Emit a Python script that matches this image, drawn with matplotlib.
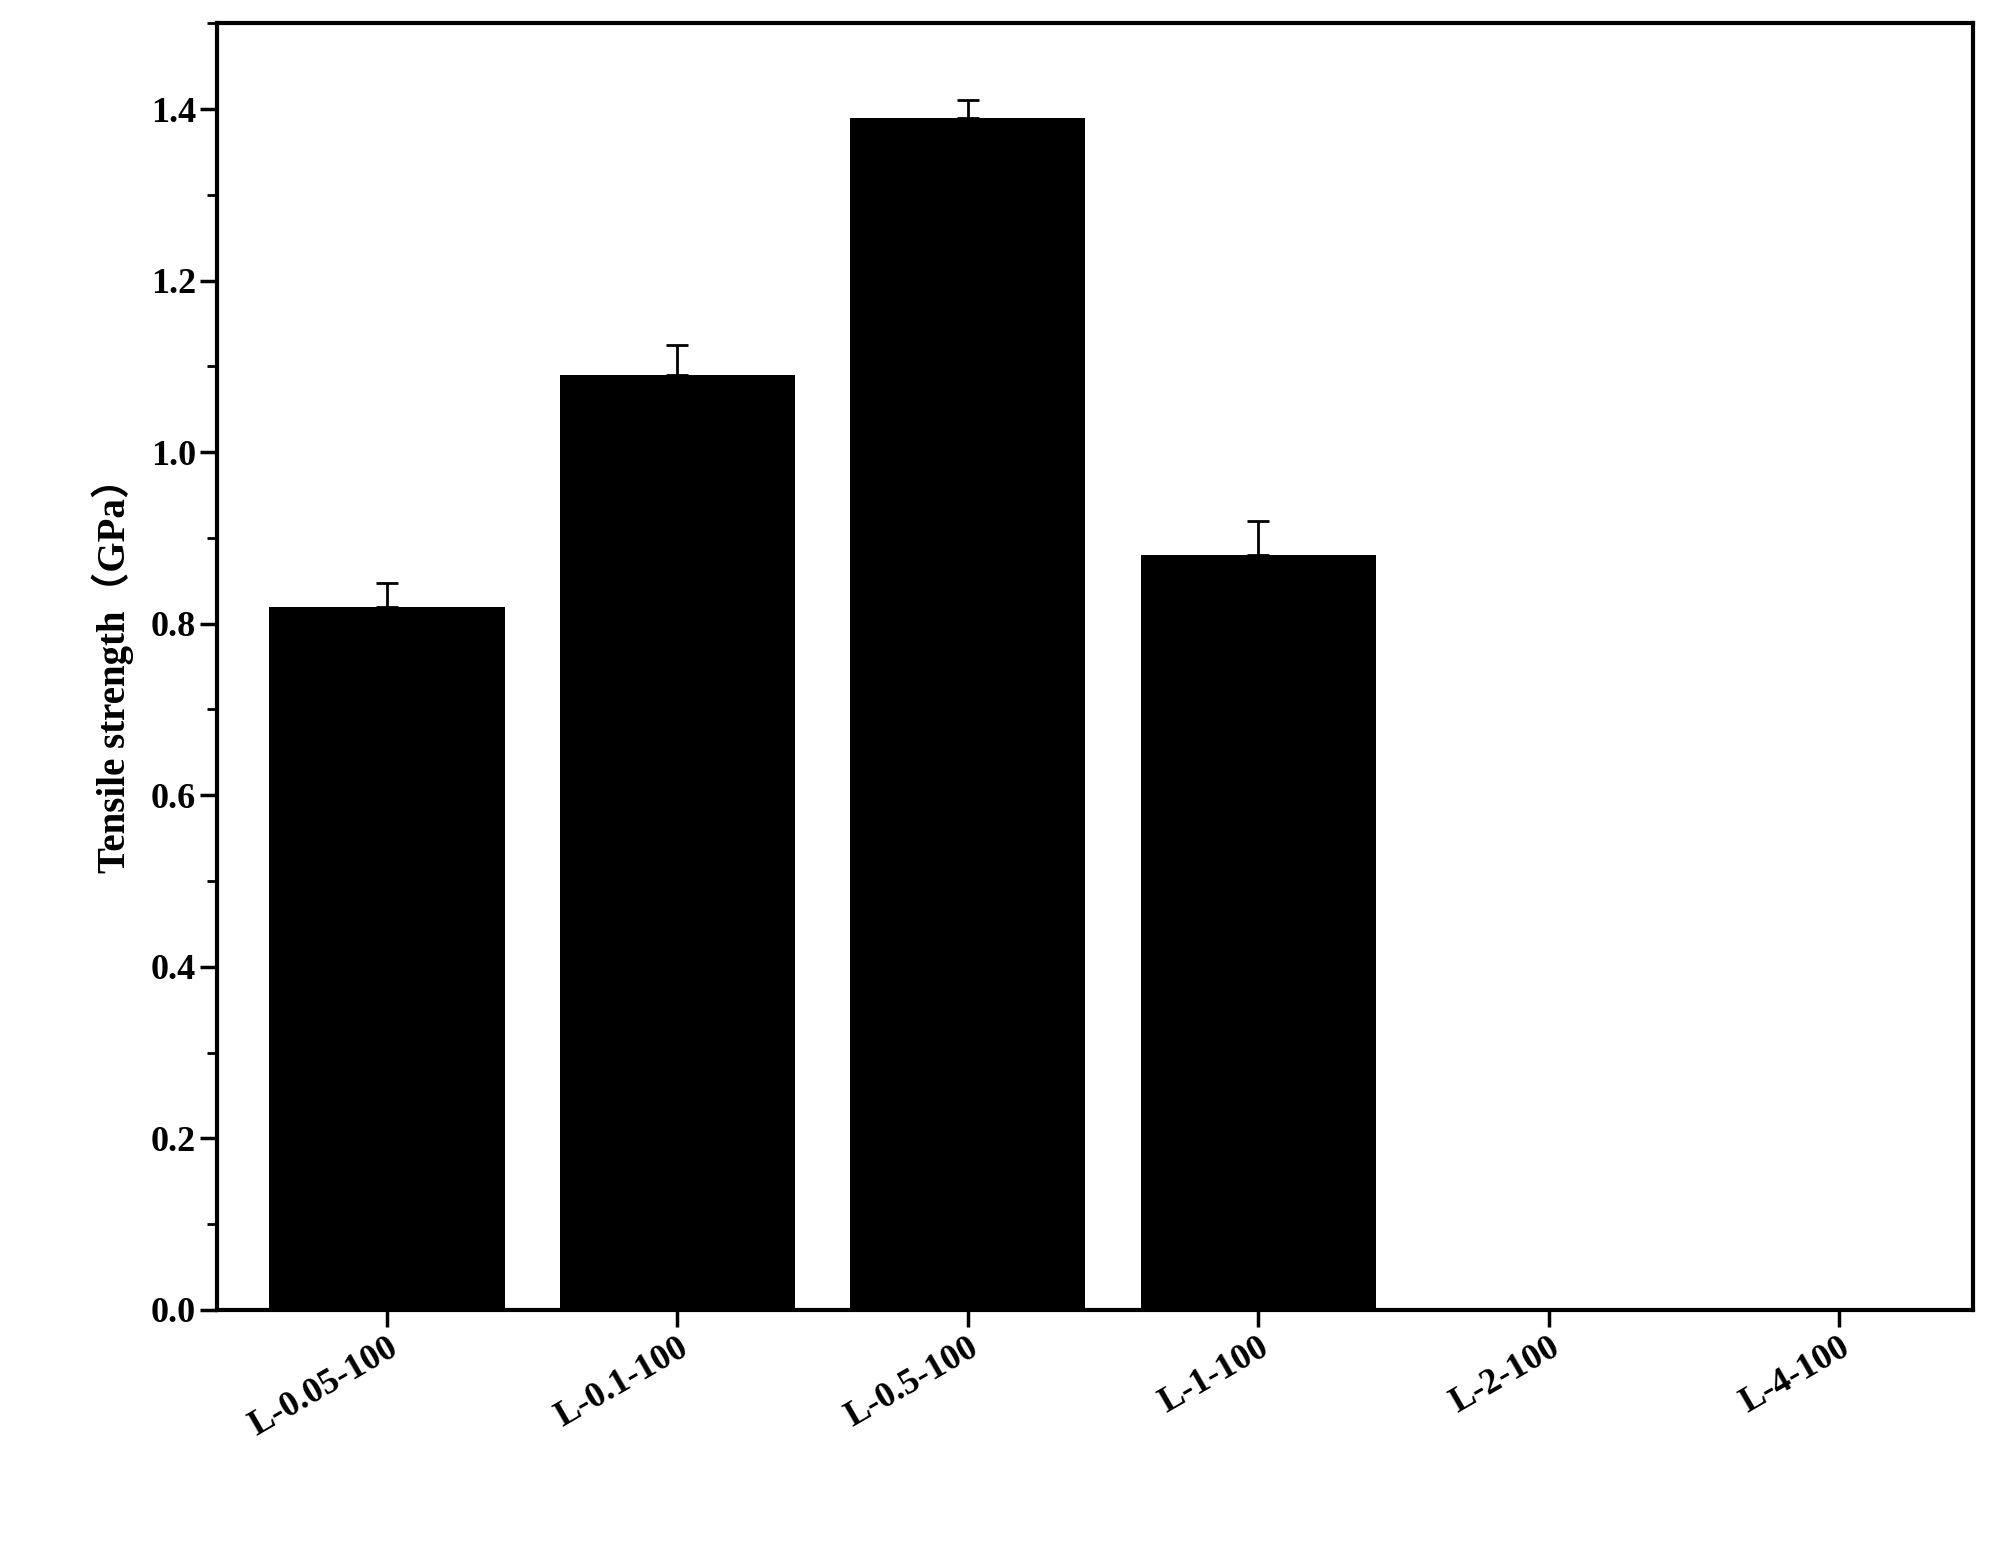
import matplotlib
matplotlib.use("Agg")
import matplotlib.pyplot as plt
from matplotlib.ticker import MultipleLocator

categories = ["L-0.05-100", "L-0.1-100", "L-0.5-100", "L-1-100", "L-2-100", "L-4-100"]
values = [0.82, 1.09, 1.39, 0.88, 0.0, 0.0]
errors = [0.027, 0.035, 0.02, 0.04, 0.0, 0.0]

plt.rcParams['font.family'] = ['Liberation Serif', 'Noto Sans CJK SC']
plt.rcParams['font.weight'] = 'bold'

fig = plt.figure(figsize=(20.13, 15.52), dpi=100)
ax = fig.add_axes([0.108, 0.156, 0.872, 0.829])
x = list(range(len(categories)))
ax.bar(x, values, width=0.81, color='black')
nz = [i for i in x if values[i] > 0]
ax.errorbar([x[i] for i in nz], [values[i] for i in nz],
            yerr=[[0]*len(nz), [errors[i] for i in nz]], fmt='none',
            ecolor='black', elinewidth=2, capsize=8, capthick=2)
ax.set_xlim(-0.584, 5.46)
ax.set_ylim(0, 1.5)
ax.yaxis.set_major_locator(MultipleLocator(0.2))
ax.yaxis.set_minor_locator(MultipleLocator(0.1))
ax.set_xticks(x)
ax.set_xticklabels(categories, rotation=30, ha='right', rotation_mode='anchor', fontsize=26, fontweight='bold')
for lab in ax.get_yticklabels():
    lab.set_fontsize(26); lab.set_fontweight('bold')
ax.set_yticks([0, 0.2, 0.4, 0.6, 0.8, 1.0, 1.2, 1.4])
ax.set_yticklabels(["0.0", "0.2", "0.4", "0.6", "0.8", "1.0", "1.2", "1.4"], fontsize=26, fontweight='bold')
ax.tick_params(axis='both', which='major', direction='out', length=12, width=2.5)
ax.tick_params(axis='y', which='minor', direction='out', length=7, width=2)
for s in ax.spines.values():
    s.set_linewidth(3)
ax.set_ylabel("Tensile strength（GPa）", fontsize=28, fontweight='bold', labelpad=12)
fig.savefig("out.png", dpi=100)
